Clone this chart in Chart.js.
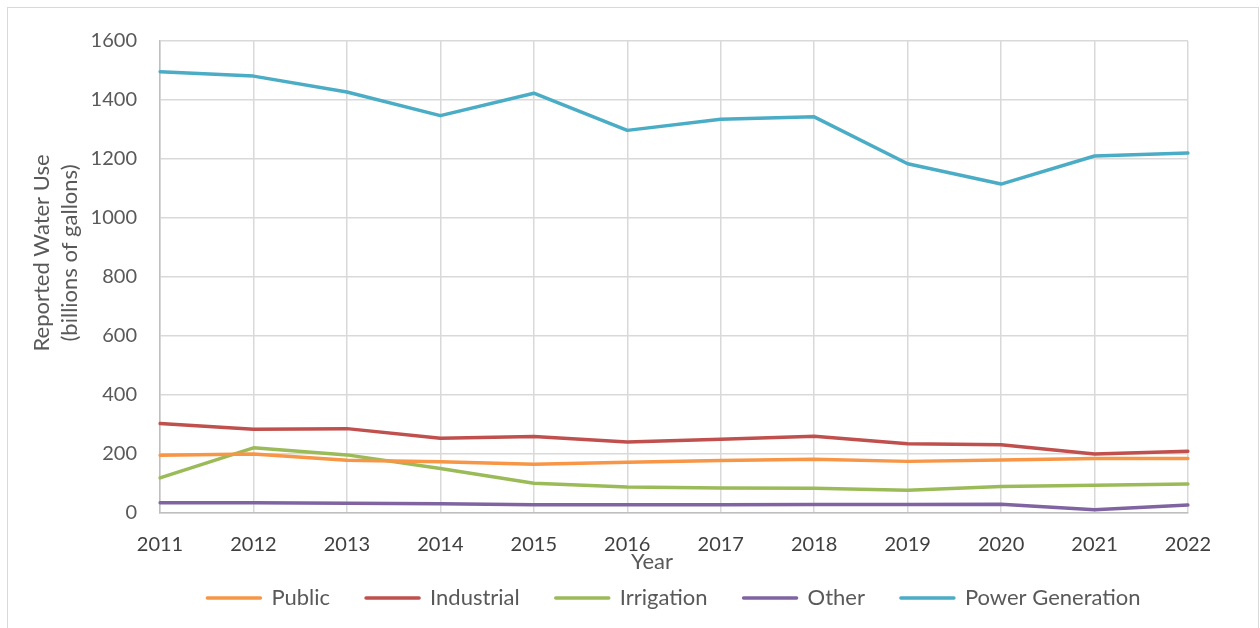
<!DOCTYPE html>
<html>
<head>
<meta charset="utf-8">
<script src="https://cdn.jsdelivr.net/npm/chart.js@4/dist/chart.umd.min.js"></script>
<style>
  html, body { margin: 0; padding: 0; background: #fff; }
  #wrap { width: 1260px; height: 628px; position: relative; }
</style>
</head>
<body>
<div id="wrap"><canvas id="c" width="1260" height="628"></canvas></div>
<script>
const years = ['2011','2012','2013','2014','2015','2016','2017','2018','2019','2020','2021','2022'];
const publicUse  = [196, 200, 179, 174, 165, 172, 178, 182, 175, 180, 185, 185];
const industrial = [303, 284, 286, 253, 259, 241, 250, 260, 235, 231, 200, 209];
const irrigation = [119, 221, 197, 151, 101, 88, 85, 84, 77, 90, 94, 98];
const other      = [35, 35, 33, 31, 28, 28, 28, 29, 29, 30, 11, 27];
const power      = [1496, 1481, 1427, 1347, 1423, 1297, 1335, 1343, 1184, 1115, 1210, 1220];
const seriesNames = ['Public', 'Industrial', 'Irrigation', 'Other', 'Power Generation'];
const yTitleLines = ['Reported Water Use', '(billions of gallons)'];
const xTitle = 'Year';

const FONT = 'Lato, "Open Sans", sans-serif';
const colors = ['#F79646', '#C0504D', '#9BBB59', '#8064A2', '#4BACC6'];
const seriesData = [publicUse, industrial, irrigation, other, power];

const frame = {
  id: 'frame',
  beforeDraw(chart) {
    const ctx = chart.ctx;
    ctx.save();
    ctx.fillStyle = '#fff';
    ctx.fillRect(0, 0, chart.width, chart.height);
    ctx.strokeStyle = '#d9d9d9';
    ctx.lineWidth = 1;
    ctx.strokeRect(7.5, 7.5, 1251, 700);
    ctx.restore();
  },
  afterDraw(chart) {
    const ctx = chart.ctx;
    const a = chart.chartArea;
    ctx.save();
    ctx.fillStyle = '#595959';
    ctx.font = '22px ' + FONT;
    ctx.textAlign = 'center';
    ctx.textBaseline = 'middle';
    // x axis title
    ctx.fillText(xTitle, (a.left + a.right) / 2 - 22, a.bottom + 49);
    // y axis title (rotated, two lines)
    ctx.translate(0, (a.top + a.bottom) / 2 - 24);
    ctx.rotate(-Math.PI / 2);
    ctx.fillText(yTitleLines[0], 0, 42);
    ctx.fillText(yTitleLines[1], 0, 70);
    ctx.restore();
  }
};

new Chart(document.getElementById('c'), {
  type: 'line',
  data: {
    labels: years,
    datasets: seriesNames.map((n, i) => ({
      label: n,
      data: seriesData[i],
      borderColor: colors[i],
      backgroundColor: colors[i],
      borderWidth: 3.5,
      pointRadius: 0,
      tension: 0,
      borderCapStyle: 'round',
      borderJoinStyle: 'round'
    }))
  },
  options: {
    responsive: false,
    animation: false,
    events: [],
    layout: { padding: { left: 30, right: 72, top: 41, bottom: 9 } },
    plugins: {
      legend: {
        position: 'bottom',
        fullSize: false,
        labels: {
          boxWidth: 53,
          boxHeight: 0,
          padding: 36,
          color: '#595959',
          font: { family: FONT, size: 22 }
        }
      },
      tooltip: { enabled: false }
    },
    scales: {
      x: {
        offset: false,
        afterFit(s) { s.height = 38; },
        grid: { color: '#d9d9d9', lineWidth: 1.5, drawTicks: false },
        border: { color: '#bfbfbf', width: 1.5 },
        ticks: { color: '#404040', padding: 20, maxRotation: 0, font: { family: FONT, size: 20 } }
      },
      y: {
        min: 0, max: 1600,
        afterFit(s) { s.width = 130; },
        grid: { color: '#d9d9d9', lineWidth: 1.5, drawTicks: false },
        border: { color: '#bfbfbf', width: 1.5 },
        ticks: { stepSize: 200, color: '#595959', padding: 23, font: { family: FONT, size: 20 },
                 callback: (v) => String(v) }
      }
    }
  },
  plugins: [frame]
});
</script>
</body>
</html>
